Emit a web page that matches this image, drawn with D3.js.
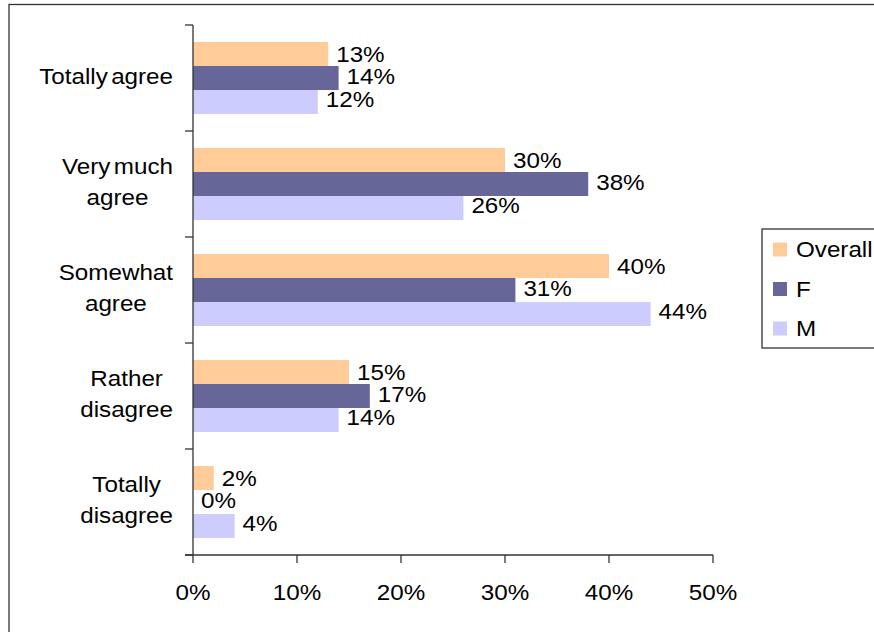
<!DOCTYPE html>
<html>
<head>
<meta charset="utf-8">
<script src="https://cdn.jsdelivr.net/npm/d3@7"></script>
<style>
  html, body { margin: 0; padding: 0; background: #fff; }
  svg { display: block; }
  text { font-family: "Liberation Sans", Arial, sans-serif; fill: #000; word-spacing: -3px; }
</style>
</head>
<body>
<script>
// Survey answers by group (percent)
const categories = ["Totally agree", "Very much agree", "Somewhat agree", "Rather disagree", "Totally disagree"];
const categoryLines = [["Totally agree"], ["Very much", "agree"], ["Somewhat", "agree"], ["Rather", "disagree"], ["Totally", "disagree"]];
const seriesNames = ["Overall", "F", "M"];
const overallValues = [13, 30, 40, 15, 2];
const femaleValues = [14, 38, 31, 17, 0];
const maleValues = [12, 26, 44, 14, 4];
const xTicks = [0, 10, 20, 30, 40, 50];

const colors = ["#FFCC99", "#666699", "#CCCCFF"];
const seriesValues = [overallValues, femaleValues, maleValues];

const W = 874, H = 632;
const FONT = 22, STRETCH = 1.1;

const svg = d3.select("body").append("svg").attr("width", W).attr("height", H);

// outer chart frame
svg.append("rect")
  .attr("x", 9).attr("y", 4.5).attr("width", 900).attr("height", 700)
  .attr("fill", "none").attr("stroke", "#333").attr("stroke-width", 1.3);

const plot = { left: 193, right: 713, top: 25, bottom: 555 };

const x = d3.scaleLinear().domain([0, 50]).range([plot.left, plot.right]);
const y = d3.scaleBand().domain(categories).range([plot.top, plot.bottom]).paddingInner(0).paddingOuter(0);
const bandPad = 17;
const sub = d3.scaleBand().domain(seriesNames)
  .range([bandPad, y.bandwidth() - bandPad]).padding(0);

function putText(g, str, px, py, anchor) {
  return g.append("text")
    .attr("transform", `translate(${px},${py}) scale(${STRETCH},1)`)
    .attr("text-anchor", anchor)
    .style("font-size", FONT + "px")
    .text(str);
}

// bars
const bars = svg.append("g");
seriesNames.forEach((s, si) => {
  bars.selectAll(null)
    .data(categories.map((c, i) => ({ c, v: seriesValues[si][i] })))
    .join("rect")
    .attr("x", x(0))
    .attr("y", d => y(d.c) + sub(s))
    .attr("width", d => x(d.v) - x(0))
    .attr("height", sub.bandwidth())
    .attr("fill", colors[si]);
});

// value labels
const labelShift = [-0.5, -2.5, -3.5];
const labels = svg.append("g");
seriesNames.forEach((s, si) => {
  categories.forEach((c, i) => {
    const v = seriesValues[si][i];
    const cy = y(c) + sub(s) + sub.bandwidth() / 2 + labelShift[si];
    putText(labels, v + "%", x(v) + 8, cy + 8, "start");
  });
});

// axes
const axisColor = "#333";
const axes = svg.append("g").attr("stroke", axisColor).attr("stroke-width", 1.3);
axes.append("line").attr("x1", plot.left).attr("x2", plot.left).attr("y1", plot.top).attr("y2", plot.bottom);
axes.append("line").attr("x1", plot.left - 8).attr("x2", plot.right).attr("y1", plot.bottom).attr("y2", plot.bottom);
// category boundary ticks
const yEdges = categories.map(c => y(c)).concat([plot.bottom]);
yEdges.forEach(e => {
  axes.append("line").attr("x1", plot.left - 8).attr("x2", plot.left).attr("y1", e).attr("y2", e);
});
xTicks.forEach(t => {
  axes.append("line").attr("x1", x(t)).attr("x2", x(t)).attr("y1", plot.bottom).attr("y2", plot.bottom + 8);
});

// x tick labels
const xl = svg.append("g");
xTicks.forEach(t => putText(xl, t + "%", x(t), 599.5, "middle"));

// category labels: lines centred on each other, block right-aligned to the axis
const cl = svg.append("g");
categoryLines.forEach((lines, i) => {
  const center = y(categories[i]) + y.bandwidth() / 2;
  const baseOf = li => center + 5.5 - (lines.length - 1) * 16 + li * 31.5;
  const nodes = lines.map((ln, li) => putText(cl, ln, 0, baseOf(li), "middle"));
  const maxW = d3.max(nodes, n => n.node().getComputedTextLength() * STRETCH);
  const cx = 173 - maxW / 2;
  nodes.forEach((n, li) => n.attr("transform", `translate(${cx},${baseOf(li)}) scale(${STRETCH},1)`));
});

// legend
const lg = svg.append("g");
lg.append("rect").attr("x", 762).attr("y", 229).attr("width", 140).attr("height", 119)
  .attr("fill", "#fff").attr("stroke", "#333").attr("stroke-width", 1.3);
seriesNames.forEach((s, si) => {
  const base = 257 + si * 39.5;
  lg.append("rect").attr("x", 773).attr("y", base - 14.5).attr("width", 14).attr("height", 14)
    .attr("fill", colors[si]);
  putText(lg, s, 796, base, "start");
});
</script>
</body>
</html>
